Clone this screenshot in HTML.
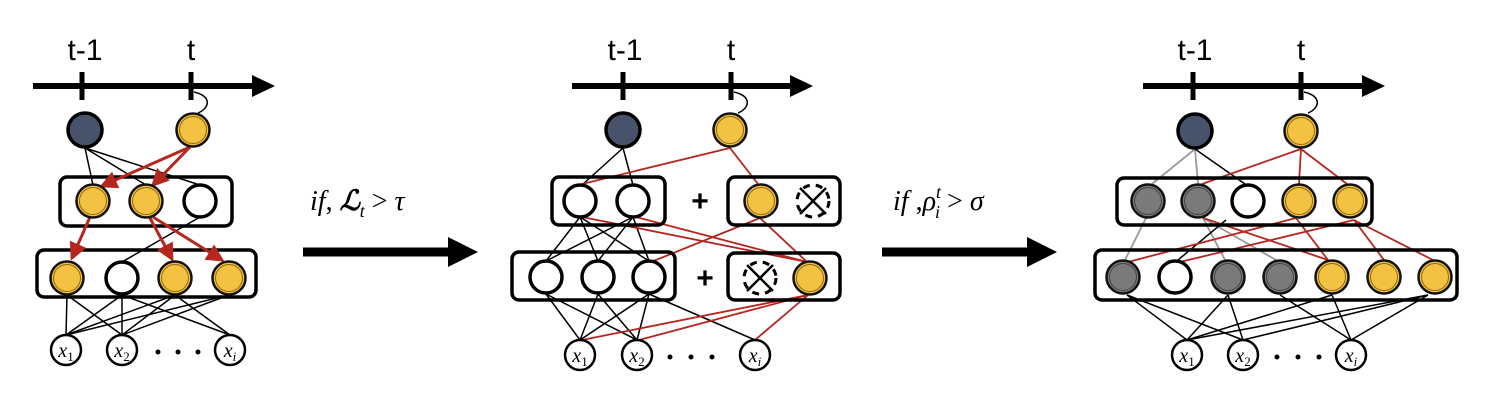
<!DOCTYPE html>
<html><head><meta charset="utf-8"><style>
html,body{margin:0;padding:0;background:#fff;}
svg{display:block;font-family:"Liberation Sans",sans-serif;}
.ser{font-family:"Liberation Serif",serif;font-style:italic;}
</style></head><body>
<svg width="1492" height="400" viewBox="0 0 1492 400" xmlns="http://www.w3.org/2000/svg">
<defs>
<marker id="ra" markerWidth="6" markerHeight="6" refX="5" refY="3" orient="auto" markerUnits="strokeWidth"><path d="M0,0 L6,3 L0,6 z" fill="#b5261e"/></marker>
<g id="yel"><circle r="16.5" fill="#f4c242" stroke="#111" stroke-width="2.5"/><circle r="13.5" fill="none" stroke="#8a6a10" stroke-width="1"/></g>
<g id="gry"><circle r="16.5" fill="#7a7a7a" stroke="#111" stroke-width="2.5"/><circle r="13.5" fill="none" stroke="#444" stroke-width="1"/></g>
<g id="dk"><circle r="17" fill="#46536a" stroke="#000" stroke-width="3.5"/></g>
<g id="wh"><circle r="16" fill="#fff" stroke="#000" stroke-width="3.5"/></g>
<g id="xx"><circle r="16" fill="none" stroke="#000" stroke-width="3" stroke-dasharray="7 6"/><line x1="-13" y1="-13" x2="13" y2="13" stroke="#000" stroke-width="2.5"/><line x1="13" y1="-13" x2="-13" y2="13" stroke="#000" stroke-width="2.5"/></g>
<g id="inp"><circle r="15" fill="#fff" stroke="#000" stroke-width="2.5"/></g>
</defs>

<!-- ========== Panel 1 ========== -->
<g>
<line x1="33" y1="86" x2="255" y2="86" stroke="#000" stroke-width="6"/>
<path d="M252,75 L275,86 L252,97 z" fill="#000"/>
<line x1="82" y1="72" x2="82" y2="100" stroke="#000" stroke-width="5"/>
<line x1="191" y1="72" x2="191" y2="100" stroke="#000" stroke-width="5"/>
<text x="85" y="60" font-size="30" text-anchor="middle">t-1</text>
<text x="191" y="60" font-size="30" text-anchor="middle">t</text>
<path d="M194,92 C212,96 210,108 198,113" fill="none" stroke="#000" stroke-width="1.5"/>
<!-- edges -->
<g stroke="#000" stroke-width="1.5">
<line x1="85" y1="148" x2="93" y2="185"/><line x1="85" y1="148" x2="146" y2="185"/><line x1="85" y1="148" x2="200" y2="185"/>
<line x1="200" y1="217" x2="122" y2="262"/>
<line x1="67" y1="295" x2="66" y2="335"/><line x1="67" y1="295" x2="122" y2="335"/>
<line x1="122" y1="295" x2="122" y2="335"/><line x1="122" y1="295" x2="66" y2="335"/><line x1="122" y1="295" x2="230" y2="335"/>
<line x1="175" y1="295" x2="66" y2="335"/><line x1="175" y1="295" x2="122" y2="335"/><line x1="175" y1="295" x2="230" y2="335"/>
<line x1="229" y1="295" x2="66" y2="335"/><line x1="229" y1="295" x2="122" y2="335"/>
</g>
<rect x="60" y="177" width="172" height="49" rx="7" fill="none" stroke="#000" stroke-width="3.5"/>
<rect x="37" y="250" width="219" height="47" rx="7" fill="none" stroke="#000" stroke-width="3.5"/>
<g stroke="#b5261e" stroke-width="3" marker-end="url(#ra)">
<line x1="190" y1="147" x2="102" y2="186"/><line x1="190" y1="147" x2="153" y2="185"/>
<line x1="90" y1="217" x2="72" y2="258"/>
<line x1="150" y1="218" x2="172" y2="259"/><line x1="153" y1="217" x2="222" y2="260"/>
</g>
<use href="#dk" x="85" y="130"/><use href="#yel" x="193" y="130"/>
<use href="#yel" x="93" y="201"/><use href="#yel" x="146" y="201"/><use href="#wh" x="200" y="201"/>
<use href="#yel" x="67" y="278"/><use href="#wh" x="122" y="278"/><use href="#yel" x="175" y="278"/><use href="#yel" x="229" y="278"/>
<use href="#inp" x="66" y="350"/><use href="#inp" x="122" y="350"/><use href="#inp" x="230" y="350"/>
<text class="ser" x="66" y="357" font-size="20" text-anchor="middle">x<tspan font-size="13" font-style="normal" dy="4">1</tspan></text>
<text class="ser" x="122" y="357" font-size="20" text-anchor="middle">x<tspan font-size="13" font-style="normal" dy="4">2</tspan></text>
<text class="ser" x="230" y="357" font-size="20" text-anchor="middle">x<tspan font-size="13" dy="4">i</tspan></text>
<circle cx="158" cy="352" r="2.5"/><circle cx="178" cy="352" r="2.5"/><circle cx="198" cy="352" r="2.5"/>
</g>

<!-- arrow 1 -->
<text class="ser" x="310" y="210" font-size="28">if<tspan font-style="normal">,</tspan> <tspan font-weight="bold">ℒ</tspan><tspan font-size="18" dy="7">t</tspan><tspan dy="-7" font-style="normal"> &gt; </tspan>τ</text>
<line x1="303" y1="252" x2="452" y2="252" stroke="#000" stroke-width="9"/>
<path d="M448,237 L478,252 L448,267 z" fill="#000"/>

<!-- ========== Panel 2 ========== -->
<g>
<line x1="572" y1="86" x2="792" y2="86" stroke="#000" stroke-width="6"/>
<path d="M790,75 L813,86 L790,97 z" fill="#000"/>
<line x1="623" y1="72" x2="623" y2="100" stroke="#000" stroke-width="5"/>
<line x1="731" y1="72" x2="731" y2="100" stroke="#000" stroke-width="5"/>
<text x="625" y="60" font-size="30" text-anchor="middle">t-1</text>
<text x="731" y="60" font-size="30" text-anchor="middle">t</text>
<path d="M734,92 C752,96 750,108 738,113" fill="none" stroke="#000" stroke-width="1.5"/>
<g stroke="#000" stroke-width="1.5">
<line x1="623" y1="148" x2="582" y2="185"/><line x1="623" y1="148" x2="633" y2="185"/>
<line x1="580" y1="217" x2="546" y2="261"/><line x1="580" y1="217" x2="598" y2="261"/><line x1="580" y1="217" x2="649" y2="261"/>
<line x1="633" y1="217" x2="546" y2="261"/><line x1="633" y1="217" x2="598" y2="261"/><line x1="633" y1="217" x2="649" y2="261"/>
<line x1="546" y1="294" x2="580" y2="340"/><line x1="546" y1="294" x2="637" y2="340"/>
<line x1="598" y1="294" x2="580" y2="340"/><line x1="598" y1="294" x2="637" y2="340"/>
<line x1="649" y1="294" x2="580" y2="340"/><line x1="649" y1="294" x2="637" y2="340"/><line x1="649" y1="294" x2="755" y2="340"/>
</g>
<g stroke="#b5261e" stroke-width="1.8">
<line x1="730" y1="148" x2="582" y2="184"/><line x1="730" y1="148" x2="758" y2="184"/>
<line x1="582" y1="217" x2="807" y2="262"/><line x1="636" y1="217" x2="807" y2="262"/>
<line x1="760" y1="218" x2="807" y2="262"/><line x1="760" y1="218" x2="651" y2="262"/>
<line x1="808" y1="295" x2="582" y2="340"/><line x1="808" y1="295" x2="639" y2="340"/><line x1="808" y1="295" x2="755" y2="340"/>
</g>
<rect x="552" y="177" width="113" height="48" rx="7" fill="none" stroke="#000" stroke-width="3.5"/>
<rect x="728" y="177" width="112" height="48" rx="7" fill="none" stroke="#000" stroke-width="3.5"/>
<rect x="512" y="252" width="163" height="48" rx="7" fill="none" stroke="#000" stroke-width="3.5"/>
<rect x="728" y="253" width="112" height="47" rx="7" fill="none" stroke="#000" stroke-width="3.5"/>
<text x="700" y="211" font-size="30" font-weight="bold" text-anchor="middle">+</text>
<text x="705" y="288" font-size="30" font-weight="bold" text-anchor="middle">+</text>
<use href="#dk" x="623" y="130"/><use href="#yel" x="730" y="130"/>
<use href="#wh" x="580" y="201"/><use href="#wh" x="633" y="201"/>
<use href="#yel" x="761" y="201"/><use href="#xx" x="813" y="201"/>
<use href="#wh" x="546" y="277"/><use href="#wh" x="598" y="277"/><use href="#wh" x="649" y="277"/>
<use href="#xx" x="760" y="278"/><use href="#yel" x="810" y="278"/>
<use href="#inp" x="580" y="355"/><use href="#inp" x="637" y="355"/><use href="#inp" x="755" y="355"/>
<text class="ser" x="580" y="362" font-size="20" text-anchor="middle">x<tspan font-size="13" font-style="normal" dy="4">1</tspan></text>
<text class="ser" x="637" y="362" font-size="20" text-anchor="middle">x<tspan font-size="13" font-style="normal" dy="4">2</tspan></text>
<text class="ser" x="755" y="362" font-size="20" text-anchor="middle">x<tspan font-size="13" dy="4">i</tspan></text>
<circle cx="670" cy="357" r="2.5"/><circle cx="691" cy="357" r="2.5"/><circle cx="712" cy="357" r="2.5"/>
</g>

<!-- arrow 2 -->
<text class="ser" x="893" y="210" font-size="28">if <tspan font-style="normal">,</tspan>ρ<tspan font-size="18" dy="-12">t</tspan><tspan font-size="18" dx="-6" dy="20">i</tspan><tspan dy="-8" font-style="normal"> &gt; </tspan>σ</text>
<line x1="882" y1="252" x2="1030" y2="252" stroke="#000" stroke-width="9"/>
<path d="M1027,237 L1057,252 L1027,267 z" fill="#000"/>

<!-- ========== Panel 3 ========== -->
<g>
<line x1="1143" y1="86" x2="1363" y2="86" stroke="#000" stroke-width="6"/>
<path d="M1362,75 L1385,86 L1362,97 z" fill="#000"/>
<line x1="1193" y1="72" x2="1193" y2="100" stroke="#000" stroke-width="5"/>
<line x1="1301" y1="72" x2="1301" y2="100" stroke="#000" stroke-width="5"/>
<text x="1195" y="60" font-size="30" text-anchor="middle">t-1</text>
<text x="1301" y="60" font-size="30" text-anchor="middle">t</text>
<path d="M1304,92 C1322,96 1320,108 1308,113" fill="none" stroke="#000" stroke-width="1.5"/>
<g stroke="#999" stroke-width="1.8">
<line x1="1195" y1="149" x2="1152" y2="184"/><line x1="1195" y1="149" x2="1198" y2="184"/>
<line x1="1146" y1="218" x2="1125" y2="260"/><line x1="1203" y1="218" x2="1225" y2="260"/><line x1="1203" y1="218" x2="1276" y2="260"/>
</g>
<g stroke="#000" stroke-width="1.5">
<line x1="1195" y1="149" x2="1245" y2="184"/>
<line x1="1226" y1="220" x2="1178" y2="260"/>
<line x1="1127" y1="295" x2="1187" y2="340"/><line x1="1127" y1="295" x2="1243" y2="340"/>
<line x1="1228" y1="295" x2="1187" y2="340"/><line x1="1228" y1="295" x2="1243" y2="340"/>
<line x1="1280" y1="295" x2="1351" y2="340"/>
<line x1="1332" y1="295" x2="1351" y2="340"/><line x1="1332" y1="295" x2="1187" y2="340"/>
<line x1="1428" y1="295" x2="1187" y2="340"/><line x1="1428" y1="295" x2="1243" y2="340"/><line x1="1428" y1="295" x2="1351" y2="340"/>
</g>
<g stroke="#b5261e" stroke-width="1.8">
<line x1="1301" y1="149" x2="1202" y2="184"/><line x1="1301" y1="149" x2="1299" y2="184"/><line x1="1301" y1="149" x2="1347" y2="184"/>
<line x1="1203" y1="218" x2="1328" y2="260"/>
<line x1="1296" y1="218" x2="1128" y2="262"/><line x1="1296" y1="218" x2="1328" y2="260"/>
<line x1="1354" y1="220" x2="1180" y2="262"/><line x1="1354" y1="220" x2="1384" y2="260"/><line x1="1354" y1="220" x2="1433" y2="260"/>
</g>
<rect x="1117" y="178" width="255" height="47" rx="7" fill="none" stroke="#000" stroke-width="3.5"/>
<rect x="1095" y="250" width="362" height="50" rx="7" fill="none" stroke="#000" stroke-width="3.5"/>
<use href="#dk" x="1195" y="131"/><use href="#yel" x="1301" y="131"/>
<use href="#gry" x="1148" y="201"/><use href="#gry" x="1198" y="201"/><use href="#wh" x="1248" y="201"/><use href="#yel" x="1299" y="201"/><use href="#yel" x="1350" y="201"/>
<use href="#gry" x="1123" y="277"/><use href="#wh" x="1175" y="277"/><use href="#gry" x="1228" y="277"/><use href="#gry" x="1280" y="277"/><use href="#yel" x="1332" y="277"/><use href="#yel" x="1384" y="277"/><use href="#yel" x="1435" y="277"/>
<use href="#inp" x="1187" y="355"/><use href="#inp" x="1243" y="355"/><use href="#inp" x="1351" y="355"/>
<text class="ser" x="1187" y="362" font-size="20" text-anchor="middle">x<tspan font-size="13" font-style="normal" dy="4">1</tspan></text>
<text class="ser" x="1243" y="362" font-size="20" text-anchor="middle">x<tspan font-size="13" font-style="normal" dy="4">2</tspan></text>
<text class="ser" x="1351" y="362" font-size="20" text-anchor="middle">x<tspan font-size="13" dy="4">i</tspan></text>
<circle cx="1277" cy="357" r="2.5"/><circle cx="1298" cy="357" r="2.5"/><circle cx="1319" cy="357" r="2.5"/>
</g>
</svg>
</body></html>
